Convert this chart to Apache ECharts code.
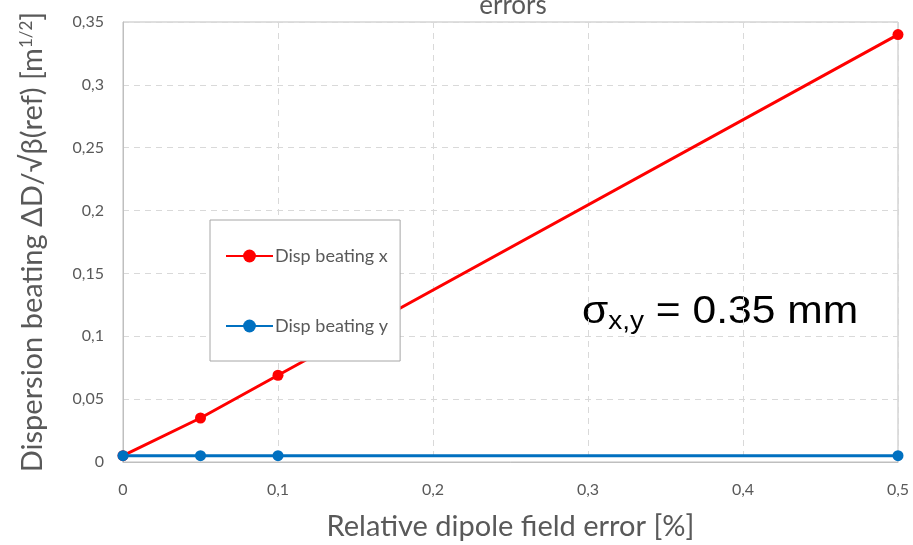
<!DOCTYPE html>
<html>
<head>
<meta charset="utf-8">
<script src="https://cdn.jsdelivr.net/npm/echarts@6/dist/echarts.min.js"></script>
<style>
  html, body { margin: 0; padding: 0; background: #fff; }
  #chart { width: 913px; height: 545px; }
</style>
</head>
<body>
<div id="chart"></div>
<script>
// Relative dipole field error [%]
const fieldError = [0, 0.05, 0.1, 0.5];
// Dispersion beating per plane
const dispBeatingX = [0.005, 0.035, 0.069, 0.34];
const dispBeatingY = [0.005, 0.005, 0.005, 0.005];

const seriesNames = ['Disp beating x', 'Disp beating y'];
const xTicks = { min: 0, max: 0.5, interval: 0.1 };
const yTicks = { min: 0, max: 0.35, interval: 0.05 };

const labelFont = 'Lato, "Open Sans", sans-serif';
const comma = v => String(+v.toFixed(2)).replace('.', ',');

const pairs = ys => fieldError.map((x, i) => [x, ys[i]]);

const chart = echarts.init(document.getElementById('chart'), null, { renderer: 'canvas' });
chart.setOption({
  animation: false,
  backgroundColor: '#ffffff',
  title: {
    text: 'errors',
    left: 508,
    textAlign: 'center',
    top: -12,
    textStyle: { fontFamily: labelFont, fontSize: 26, fontWeight: 'normal', color: '#595959' }
  },
  grid: {
    left: 123, right: 15, top: 22, bottom: 83,
    outerBoundsMode: 'none',
    show: true, borderColor: '#bfbfbf', borderWidth: 1
  },
  legend: {
    orient: 'vertical',
    left: 210, top: 220,
    padding: [27, 12, 26, 15],
    itemGap: 52,
    itemWidth: 47,
    itemHeight: 16,
    backgroundColor: '#ffffff',
    borderColor: '#a6a6a6',
    borderWidth: 1,
    textStyle: { fontFamily: labelFont, fontSize: 18, color: '#595959', padding: [0, 0, 0, -3] },
    data: seriesNames
  },
  xAxis: {
    type: 'value',
    min: xTicks.min, max: xTicks.max, interval: xTicks.interval,
    name: 'Relative dipole field error [%]',
    nameLocation: 'middle',
    nameGap: 50,
    nameTextStyle: { fontFamily: labelFont, fontSize: 29, color: '#595959' },
    axisLine: { show: true, lineStyle: { color: '#bfbfbf', width: 1 } },
    axisTick: { show: false },
    axisLabel: { margin: 20, fontFamily: labelFont, fontSize: 16, color: '#595959', formatter: comma },
    splitLine: { show: true, lineStyle: { color: '#d9d9d9', type: [6, 5], width: 1 } }
  },
  yAxis: {
    type: 'value',
    min: yTicks.min, max: yTicks.max, interval: yTicks.interval,
    name: 'Dispersion beating ΔD/√β(ref) [m{sup|1/2}]',
    nameLocation: 'middle',
    nameGap: 76,
    nameTextStyle: {
      fontFamily: labelFont, fontSize: 29, color: '#595959',
      rich: { sup: { fontFamily: labelFont, fontSize: 17, color: '#595959', verticalAlign: 'top', padding: [0, 0, 12, 0] } }
    },
    axisLine: { show: true, lineStyle: { color: '#bfbfbf', width: 1 } },
    axisTick: { show: false },
    axisLabel: { margin: 19, fontFamily: labelFont, fontSize: 16, color: '#595959', formatter: comma },
    splitLine: { show: true, lineStyle: { color: '#d9d9d9', type: [6, 5], width: 1 } }
  },
  series: [
    {
      name: seriesNames[0], type: 'line', data: pairs(dispBeatingX),
      symbol: 'circle', symbolSize: 11, z: 3,
      lineStyle: { color: '#ff0000', width: 3 },
      itemStyle: { color: '#ff0000' }
    },
    {
      name: seriesNames[1], type: 'line', data: pairs(dispBeatingY),
      symbol: 'circle', symbolSize: 11, z: 4,
      lineStyle: { color: '#0070c0', width: 3 },
      itemStyle: { color: '#0070c0' }
    }
  ],
  graphic: [
    {
      type: 'text',
      x: 582, y: 290,
      scaleX: 1.12,
      style: {
        text: 'σ{sub|x,y} = 0.35 mm',
        fontFamily: '"Liberation Sans", Arial, sans-serif',
        fontSize: 38,
        fill: '#000000',
        rich: {
          sub: { fontFamily: '"Liberation Sans", Arial, sans-serif', fontSize: 25, fill: '#000000', verticalAlign: 'bottom', padding: [20, 0, 0, 0] }
        }
      }
    }
  ]
});
</script>
</body>
</html>
